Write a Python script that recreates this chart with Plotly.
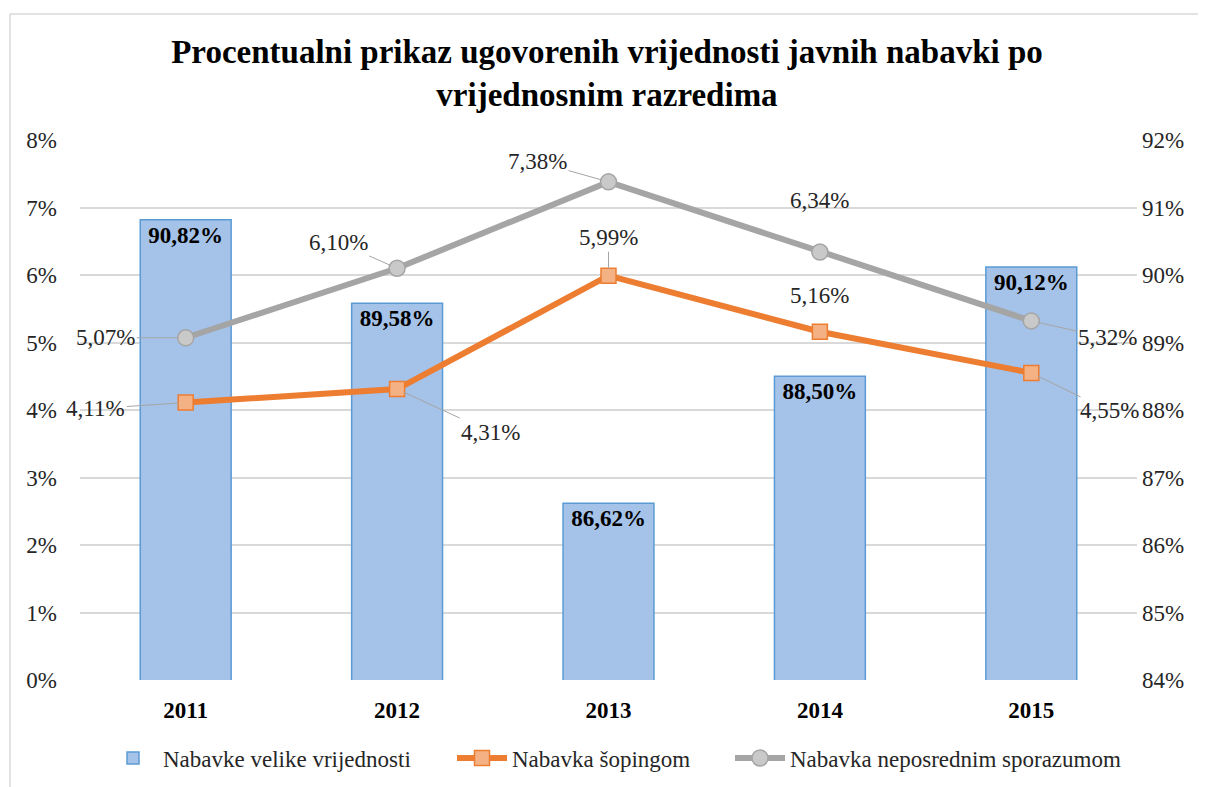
import plotly.graph_objects as go

years = [2011, 2012, 2013, 2014, 2015]
velike = [90.82, 89.58, 86.62, 88.50, 90.12]
sopingom = [4.11, 4.31, 5.99, 5.16, 4.55]
neposredni = [5.07, 6.10, 7.38, 6.34, 5.32]

left_ticks = [0, 1, 2, 3, 4, 5, 6, 7, 8]
right_ticks = [84, 85, 86, 87, 88, 89, 90, 91, 92]

def fmt(v):
    return f"{v:.2f}%".replace(".", ",")

FONT = "Liberation Serif, Times New Roman, serif"
TXT = "#262626"
FS = 23

# page has an 8px body margin: figure is drawn at (8, 8)
OFF = 8
W, H = 1206 - OFF, 787 - OFF
# plot area in reference (screenshot) pixels
L, R, T, B = 80, 1137, 140, 680
PW, PH = R - L, B - T

def px_x(p):
    return (p - L) / PW

def px_y(p):
    return (B - p) / PH

fig = go.Figure()

fig.add_trace(go.Bar(
    x=years, y=velike, name="Nabavke velike vrijednosti", width=0.43,
    marker=dict(color="#a5c2e8", line=dict(color="#5b9bd5", width=1.5)),
    text=[fmt(v) for v in velike], textposition="inside", insidetextanchor="end",
    textfont=dict(family=FONT, size=FS, color="black", weight="bold"),
    textangle=0, constraintext="none",
    yaxis="y", legend="legend", showlegend=True,
))
fig.add_trace(go.Scatter(
    x=years, y=sopingom, name="Nabavka šopingom", mode="lines+markers",
    line=dict(color="#ed7d31", width=6),
    marker=dict(symbol="square", size=15, color="#f4b183", line=dict(color="#ed7d31", width=1.5)),
    yaxis="y2", legend="legend2", showlegend=True,
))
fig.add_trace(go.Scatter(
    x=years, y=neposredni, name="Nabavka neposrednim sporazumom", mode="lines+markers",
    line=dict(color="#a5a5a5", width=6),
    marker=dict(symbol="circle", size=16, color="#c9c9c9", line=dict(color="#a5a5a5", width=1.5)),
    yaxis="y2", legend="legend3", showlegend=True,
))

# label offsets (pixels) for line data labels: (ax, ay, show leader line)
gray_off = [(-80, 0, True), (-59, -26, True), (-71, -20, True), (0, -52, False), (76, 17, True)]
orange_off = [(-90, 6, True), (93, 43, True), (0, -38, True), (0, -36, False), (78, 38, True)]

annotations = []
for vals, offs in ((neposredni, gray_off), (sopingom, orange_off)):
    for yr, v, (ax, ay, line) in zip(years, vals, offs):
        annotations.append(dict(
            x=yr, y=v, xref="x", yref="y2", text=fmt(v),
            showarrow=True, arrowhead=0, arrowwidth=1,
            arrowcolor="#a5a5a5" if line else "rgba(0,0,0,0)",
            ax=ax, ay=ay, standoff=7,
            font=dict(family=FONT, size=FS, color=TXT),
        ))

legend_common = dict(
    orientation="h", xanchor="left", y=px_y(758), yanchor="middle",
    font=dict(family=FONT, size=FS, color=TXT), itemwidth=50,
    bgcolor="rgba(0,0,0,0)",
)

fig.update_layout(
    width=W, height=H, showlegend=True,
    paper_bgcolor="white", plot_bgcolor="white",
    margin=dict(l=L - OFF, r=W - (R - OFF), t=T - OFF, b=H - (B - OFF), autoexpand=False),
    font=dict(family=FONT, size=FS, color=TXT),
    title=dict(
        text="Procentualni prikaz ugovorenih vrijednosti javnih nabavki po<br>vrijednosnim razredima",
        x=0.5, xanchor="center", y=1 - 55 / H, yanchor="middle",
        font=dict(family=FONT, size=33, color="black", weight="bold"),
    ),
    xaxis=dict(
        range=[2010.5, 2015.5], tickvals=years, tickformat="d",
        showgrid=False, zeroline=False, showline=False, ticks="",
        tickfont=dict(family=FONT, size=FS, color="black", weight="bold"),
        ticklabelstandoff=14, automargin=False,
    ),
    yaxis=dict(
        side="right", range=[84, 92], tickvals=right_ticks,
        ticktext=[f"{t}%" for t in right_ticks],
        showgrid=True, gridcolor="#d9d9d9", gridwidth=1.5,
        zeroline=False, showline=False, ticks="",
        tickfont=dict(family=FONT, size=FS, color=TXT),
        ticklabelstandoff=4, automargin=False,
    ),
    yaxis2=dict(
        overlaying="y", side="left", range=[0, 8], tickvals=left_ticks,
        ticktext=[f"{t}%" for t in left_ticks],
        showgrid=False, zeroline=False, showline=False, ticks="",
        tickfont=dict(family=FONT, size=FS, color=TXT),
        ticklabelstandoff=22, automargin=False,
    ),
    legend=dict(x=px_x(103), **legend_common),
    legend2=dict(x=px_x(452), **legend_common),
    legend3=dict(x=px_x(730), **legend_common),
    annotations=annotations,
    shapes=[dict(
        type="rect", xref="paper", yref="paper",
        x0=px_x(10), x1=px_x(1220),
        y0=px_y(800), y1=px_y(14),
        line=dict(color="#d9d9d9", width=1.5), fillcolor="rgba(0,0,0,0)",
        layer="below",
    )],
)

fig.write_html("out.html")
